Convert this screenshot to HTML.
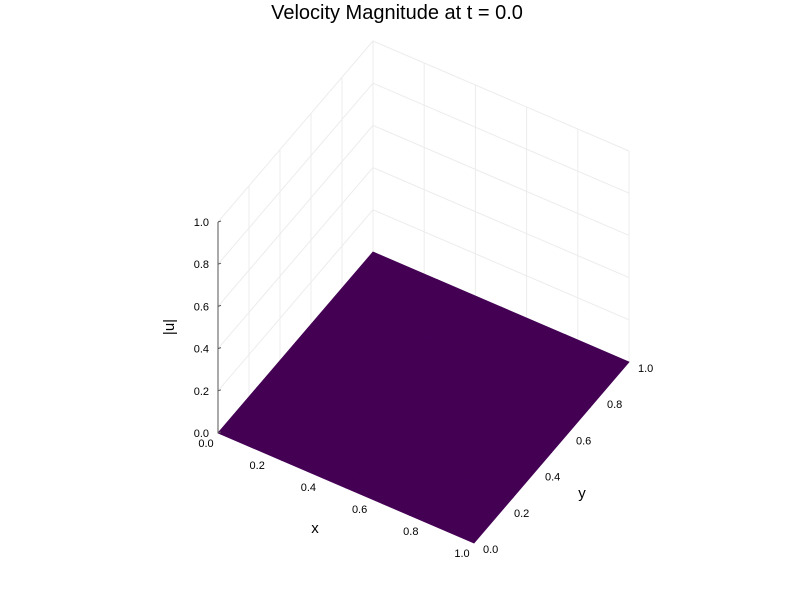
<!DOCTYPE html>
<html><head><meta charset="utf-8"><style>
body{margin:0;background:#fff}
svg{display:block;font-family:"Liberation Sans","DejaVu Sans",sans-serif}
</style></head><body>
<svg id="c" width="800" height="600" viewBox="0 0 800 600">
<rect width="800" height="600" fill="#fff"/>
<text x="397" y="19" text-anchor="middle" font-size="20" fill="#000">Velocity Magnitude at t = 0.0</text>
<g id="grid"></g>
<g id="surf"></g>
<g id="axes"></g>
</svg>
<script>
const xTicks=[0,0.2,0.4,0.6,0.8,1.0];
const yTicks=[0,0.2,0.4,0.6,0.8,1.0];
const zTicks=[0,0.2,0.4,0.6,0.8,1.0];
const xGrid=[0,0.25,0.5,0.75,1];
const yGrid=[0,0.25,0.5,0.75,1];
const zValues=[[0,0,0,0,0],[0,0,0,0,0],[0,0,0,0,0],[0,0,0,0,0],[0,0,0,0,0]];
const zMin=0,zMax=1;
const NS='http://www.w3.org/2000/svg';
function P(x,y,z){const zn=(z-zMin)/(zMax-zMin);return [218+x*256+y*155,433+x*110-y*181-zn*211];}
function mk(t,a,p){const e=document.createElementNS(NS,t);for(const k in a)e.setAttribute(k,a[k]);p.appendChild(e);return e;}
const g=document.getElementById('grid'),s=document.getElementById('surf'),ax=document.getElementById('axes');
function line(a,b,col,w,p,name){const l=mk('line',{x1:a[0],y1:a[1],x2:b[0],y2:b[1],stroke:col,'stroke-width':w},p);

}
yTicks.forEach(y=>{line(P(0,y,zMin),P(0,y,zMax),'#ececec',1,g,'grid-line-y');});
xTicks.forEach(x=>{line(P(x,1,zMin),P(x,1,zMax),'#ececec',1,g,'grid-line-x');});
zTicks.forEach(z=>{line(P(0,0,z),P(0,1,z),'#ececec',1,g,'grid-line-z');line(P(0,1,z),P(1,1,z),'#ececec',1,g,'grid-line-z');});
for(let i=0;i<xGrid.length-1;i++)for(let j=0;j<yGrid.length-1;j++){
 const pts=[P(xGrid[i],yGrid[j],zValues[i][j]),P(xGrid[i+1],yGrid[j],zValues[i+1][j]),P(xGrid[i+1],yGrid[j+1],zValues[i+1][j+1]),P(xGrid[i],yGrid[j+1],zValues[i][j+1])];
 const q=mk('polygon',{points:pts.map(p=>p.join(',')).join(' '),fill:'#440154',stroke:'#440154','stroke-width':0.8},s);
 
 
}
line(P(0,0,zMin),P(0,0,zMax),'#555',1,ax,'z-axis-line');
function txt(str,p,anchor,size,name){const t=mk('text',{x:p[0],y:p[1],'text-anchor':anchor,'font-size':size,fill:'#000'},ax);t.textContent=str;


return t;}
zTicks.forEach(z=>{const p=P(0,0,z);line(p,[p[0]+3,p[1]-1],'#555',1,ax,'z-tick');txt(z.toFixed(1),[p[0]-9,p[1]+4],'end',11,'z-tick-label');});
xTicks.forEach(x=>{const p=P(x,0,zMin);txt(x.toFixed(1),[p[0]-12,p[1]+14],'middle',11,'x-tick-label');});
yTicks.forEach(y=>{const p=P(1,y,zMin);txt(y.toFixed(1),[p[0]+9,p[1]+10],'start',11,'y-tick-label');});
txt('x',[315,533],'middle',15,'x-axis-title');
txt('y',[582,498],'middle',15,'y-axis-title');
const zl=mk('text',{x:0,y:0,'text-anchor':'middle','font-size':15,fill:'#000',transform:'translate(174,327) rotate(-90)'},ax);zl.textContent='|u|';


</script>
</body></html>
